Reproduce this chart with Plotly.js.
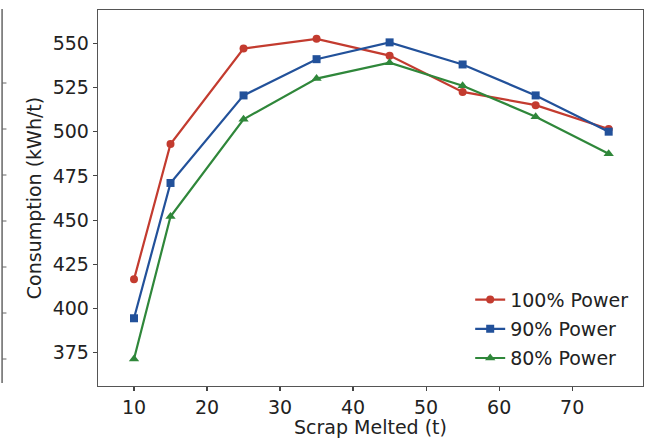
<!DOCTYPE html>
<html>
<head>
<meta charset="utf-8">
<script src="https://cdn.plot.ly/plotly-3.0.1.min.js"></script>
<style>html,body{margin:0;padding:0;background:#fff;}#chart{width:646px;height:438px;}</style>
</head>
<body>
<div id="chart"></div>
<script>
var scrapMelted = [10, 15, 25, 35, 45, 55, 65, 75];
var power100 = [416.5, 493, 547, 552.5, 543, 522.5, 515, 501.5];
var power90  = [394.5, 471, 520.5, 541, 550.5, 538, 520.5, 500];
var power80  = [371.5, 452, 507, 530, 539, 526, 508.5, 487.5];
var seriesNames = ["100% Power", "90% Power", "80% Power"];
var yTickVals = [375, 400, 425, 450, 475, 500, 525, 550];
var xTickVals = [10, 20, 30, 40, 50, 60, 70];

var colors = ["#c33b2f", "#22519a", "#2f873a"];
var symbols = ["circle", "square", "triangle-up"];
var seriesData = [power100, power90, power80];

var traces = seriesData.map(function (vals, i) {
  return {
    x: scrapMelted, y: vals, name: seriesNames[i], type: "scatter", mode: "lines+markers",
    legendgroup: "g" + i,
    line: {color: colors[i], width: 2.2},
    marker: {color: colors[i], symbol: symbols[i], size: i === 2 ? 9 : 8}
  };
});

var font = {family: "DejaVu Sans", size: 19, color: "#222"};

// left-edge fragment of a neighbouring panel
var shapes = [{type: "line", xref: "paper", yref: "paper", x0: -0.176, x1: -0.176,
  y0: 1 - (9 - 10) / 376, y1: 1 - (383 - 10) / 376, line: {color: "#666", width: 1.5}}];
[83, 129, 175, 221, 267, 313, 359].forEach(function (py) {
  var yy = 1 - (py - 10) / 376;
  shapes.push({type: "line", xref: "paper", yref: "paper", x0: -0.176, x1: -0.168, y0: yy, y1: yy,
    line: {color: "#666", width: 1}});
});

var layout = {
  width: 646, height: 438,
  margin: {l: 98, r: 3, t: 10, b: 52},
  paper_bgcolor: "#fff", plot_bgcolor: "#fff",
  font: font,
  showlegend: true,
  xaxis: {
    range: [5.07, 79.7], tickvals: xTickVals, ticks: "outside", ticklen: 4, tickwidth: 1.2,
    tickcolor: "#444", showline: true, linecolor: "#555", linewidth: 1.3, mirror: true,
    showgrid: false, zeroline: false, tickfont: font,
    title: {text: "Scrap Melted (t)", font: font, standoff: 4}
  },
  yaxis: {
    range: [356.2, 568.8], tickvals: yTickVals, ticks: "outside", ticklen: 4, tickwidth: 1.2,
    tickcolor: "#444", showline: true, linecolor: "#555", linewidth: 1.3, mirror: true,
    showgrid: false, zeroline: false, tickfont: font,
    title: {text: "Consumption (kWh/t)", font: font, standoff: 6}
  },
  legend: {
    x: 0.982, y: 0.022, xanchor: "right", yanchor: "bottom",
    traceorder: "grouped", tracegroupgap: 1.5,
    bgcolor: "rgba(255,255,255,0)", borderwidth: 0, font: font
  },
  shapes: shapes
};

Plotly.newPlot("chart", traces, layout, {displayModeBar: false, staticPlot: true});
</script>
</body>
</html>
